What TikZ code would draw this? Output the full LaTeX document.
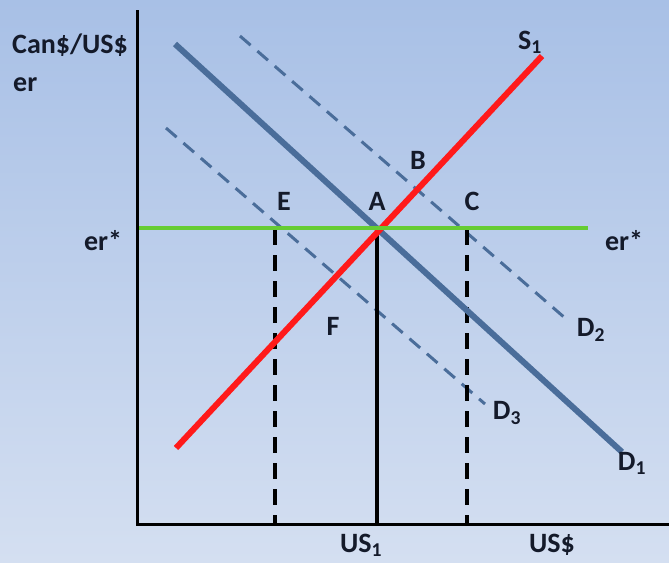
\documentclass[tikz,border=0pt]{standalone}
\usepackage{fontspec}
\setmainfont{Carlito}
\definecolor{bgtop}{HTML}{A8C0E6}
\definecolor{bgbot}{HTML}{D4DFF1}
\definecolor{dblue}{HTML}{4A6D9A}
\definecolor{sred}{HTML}{FF1A1A}
\definecolor{egreen}{HTML}{66CC33}
\definecolor{txt}{HTML}{141A2A}
\tikzset{
  lbl/.style={font=\bfseries\fontsize{28}{32}\selectfont, text=txt, inner sep=0pt},
  axis/.style={line width=3pt, black},
  dline/.style={line width=6pt, dblue},
  dshift/.style={line width=3pt, dblue, dash pattern=on 14pt off 9pt},
  supply/.style={line width=6pt, sred},
  vdash/.style={line width=3.2pt, black, dash pattern=on 16pt off 10pt},
}
\begin{document}
\begin{tikzpicture}[x=1pt,y=-1pt]
\useasboundingbox (0,0) rectangle (669,562);
\shade[top color=bgtop, bottom color=bgbot] (0,0) rectangle (669,562);
% coordinates
\coordinate (ytop) at (137,10);
\coordinate (orig) at (137,524);
\coordinate (xend) at (669,524);
\coordinate (gL) at (137,228);
\coordinate (gR) at (588,228);
\coordinate (s0) at (176,448);
\coordinate (s1) at (542,56);
\coordinate (d1a) at (175,44);
\coordinate (d1b) at (622,452);
\coordinate (d2a) at (240,36);
\coordinate (d2b) at (565,318);
\coordinate (d3a) at (166,128);
\coordinate (d3b) at (485,404);
\coordinate (pA) at (377,229);
\coordinate (pE) at (275,229);
\coordinate (pC) at (467,229);
\coordinate (bA) at (377,524);
\coordinate (bE) at (275,524);
\coordinate (bC) at (467,524);
% demand shifts
\draw[dshift] (d2a) -- (d2b);
\draw[dshift] (d3a) -- (d3b);
% verticals
\draw[vdash] (pE) -- (bE);
\draw[vdash] (pC) -- (bC);
\draw[line width=3.2pt, black] (pA) -- (bA);
% main lines
\draw[dline] (d1a) -- (d1b);
\draw[supply] (s0) -- (s1);
\draw[line width=3.5pt, egreen] (gL) -- (gR);
% axes
\draw[axis] (ytop) -- (orig) -- (xend);
% labels
\node[lbl, anchor=west] (yl) at (12,45) {Can\$/US\$};
\node[lbl, anchor=west] (er) at (13,85) {er};
\node[lbl] (erl) at (103,241) {er*};
\node[lbl] (err) at (624,241) {er*};
\node[lbl] (S1) at (530,42) {S\textsubscript{1}};
\node[lbl] (lA) at (377,201) {A};
\node[lbl] (lB) at (418,160) {B};
\node[lbl] (lC) at (472,201) {C};
\node[lbl] (lE) at (284,201) {E};
\node[lbl] (lF) at (333,326) {F};
\node[lbl] (D2) at (591,330) {D\textsubscript{2}};
\node[lbl] (D3) at (507,413) {D\textsubscript{3}};
\node[lbl] (D1) at (632,463) {D\textsubscript{1}};
\node[lbl] (US1) at (361,545) {US\textsubscript{1}};
\node[lbl] (USd) at (552,545) {US\$};
\end{tikzpicture}
\end{document}
